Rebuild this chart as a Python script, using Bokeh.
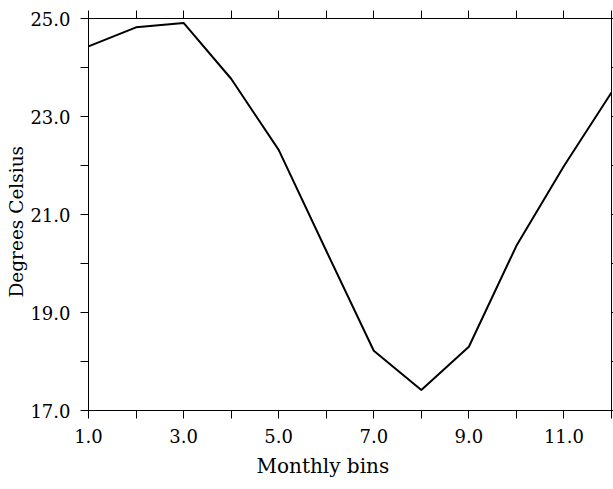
from bokeh.plotting import figure
from bokeh.models import LinearAxis, FixedTicker, PrintfTickFormatter, Range1d, Title
from bokeh.embed import file_html
from bokeh.resources import INLINE

months = [1, 2, 3, 4, 5, 6, 7, 8, 9, 10, 11, 12]
temps = [24.43, 24.82, 24.91, 23.77, 22.32, 20.26, 18.22, 17.42, 18.30, 20.36, 21.99, 23.49]
x_labeled = [1, 3, 5, 7, 9, 11]
x_unlabeled = [2, 4, 6, 8, 10, 12]
y_labeled = [17, 19, 21, 23, 25]
y_unlabeled = [18, 20, 22, 24]
x_title = "Monthly bins"
y_title = "Degrees Celsius"

FONT = "DejaVu Serif"

p = figure(width=613, height=489, output_backend="svg", toolbar_location=None,
           x_range=Range1d(1, 12), y_range=Range1d(17, 25),
           x_axis_location=None, y_axis_location=None,
           min_border_left=88, min_border_right=2, min_border_top=18, min_border_bottom=79)
p.xgrid.visible = False
p.ygrid.visible = False
p.outline_line_color = "black"
p.outline_line_width = 1
p.background_fill_color = "white"
p.border_fill_color = "white"

def style(ax):
    ax.axis_line_color = "black"
    ax.major_tick_line_color = "black"
    ax.minor_tick_line_color = "black"
    ax.major_tick_in = 0
    ax.minor_tick_in = 0
    ax.major_tick_out = 8
    ax.minor_tick_out = 8
    ax.major_label_text_font = FONT
    ax.major_label_text_font_style = "normal"
    ax.major_label_text_font_size = "18px"
    ax.major_label_text_color = "black"

bottom = LinearAxis(ticker=FixedTicker(ticks=x_labeled, minor_ticks=x_unlabeled),
                    formatter=PrintfTickFormatter(format="%.1f"))
style(bottom)
bottom.major_label_standoff = 10
p.add_layout(bottom, "below")

left = LinearAxis(ticker=FixedTicker(ticks=y_labeled, minor_ticks=y_unlabeled),
                  formatter=PrintfTickFormatter(format="%.1f"))
style(left)
left.major_label_standoff = 10
p.add_layout(left, "left")

top = LinearAxis(ticker=FixedTicker(ticks=[], minor_ticks=months))
style(top)
top.major_label_standoff = 0
p.add_layout(top, "above")

right = LinearAxis(ticker=FixedTicker(ticks=[], minor_ticks=y_labeled + y_unlabeled))
style(right)
right.minor_tick_out = 2
right.major_tick_out = 2
right.major_label_standoff = 0
p.add_layout(right, "right")

# axis titles as side titles, shifted along the axis like the reference
p.add_layout(Title(text=x_title, align="left", offset=168, standoff=12,
                   vertical_align="bottom",
                   text_font=FONT, text_font_size="20px", text_font_style="normal",
                   text_color="black"), "below")
p.add_layout(Title(text=y_title, align="left", offset=113, standoff=2,
                   text_font=FONT, text_font_size="18.5px", text_font_style="normal",
                   text_color="black"), "left")

p.line(months, temps, line_color="black", line_width=2)

open("out.html", "w").write(file_html(p, INLINE))
